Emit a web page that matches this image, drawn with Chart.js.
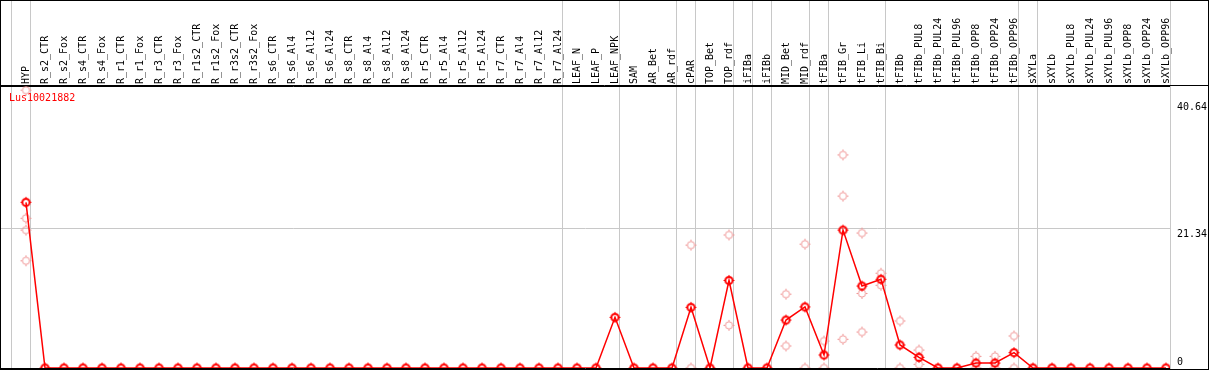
<!DOCTYPE html>
<html>
<head>
<meta charset="utf-8">
<script src="https://cdn.jsdelivr.net/npm/chart.js@4/dist/chart.umd.min.js"></script>
<style>
  html, body { margin: 0; padding: 0; background: #fff; }
  #frame { position: absolute; left: 0; top: 0; width: 1207px; height: 368px; border: 1px solid #000; }
</style>
</head>
<body>
<div id="frame"><canvas id="chart"></canvas></div>
<script>
// gene shown
const geneName = 'Lus10021882';

// sample names, in the order they appear across the top
const categories = [
  'HYP',
  'R_s2_CTR', 'R_s2_Fox', 'R_s4_CTR', 'R_s4_Fox', 'R_r1_CTR', 'R_r1_Fox', 'R_r3_CTR', 'R_r3_Fox',
  'R_r1s2_CTR', 'R_r1s2_Fox', 'R_r3s2_CTR', 'R_r3s2_Fox',
  'R_s6_CTR', 'R_s6_Al4', 'R_s6_Al12', 'R_s6_Al24', 'R_s8_CTR', 'R_s8_Al4', 'R_s8_Al12', 'R_s8_Al24',
  'R_r5_CTR', 'R_r5_Al4', 'R_r5_Al12', 'R_r5_Al24', 'R_r7_CTR', 'R_r7_Al4', 'R_r7_Al12', 'R_r7_Al24',
  'LEAF_N', 'LEAF_P', 'LEAF_NPK',
  'SAM', 'AR_Bet', 'AR_rdf',
  'cPAR',
  'TOP_Bet', 'TOP_rdf',
  'iFIBa', 'iFIBb',
  'MID_Bet', 'MID_rdf',
  'tFIBa',
  'tFIB_Gr', 'tFIB_Li', 'tFIB_Bi',
  'tFIBb', 'tFIBb_PUL8', 'tFIBb_PUL24', 'tFIBb_PUL96', 'tFIBb_OPP8', 'tFIBb_OPP24', 'tFIBb_OPP96',
  'sXYLa',
  'sXYLb', 'sXYLb_PUL8', 'sXYLb_PUL24', 'sXYLb_PUL96', 'sXYLb_OPP8', 'sXYLb_OPP24', 'sXYLb_OPP96'
];

// mean expression per sample
const meanValues = [
  25.35,
  0, 0, 0, 0, 0, 0, 0, 0,
  0, 0, 0, 0,
  0, 0, 0, 0, 0, 0, 0, 0,
  0, 0, 0, 0, 0, 0, 0, 0,
  0, 0, 7.75,
  0, 0, 0,
  9.28,
  0, 13.4,
  0, 0,
  7.34, 9.35,
  1.99,
  21.1, 12.54, 13.57,
  3.52, 1.63, 0, 0, 0.76, 0.76, 2.35,
  0,
  0, 0, 0, 0, 0, 0, 0
];

// single replicates, keyed by sample name
const replicateValues = {
  'HYP': [42.5, 22.9, 21.1, 16.4],
  'cPAR': [18.8, 0],
  'TOP_rdf': [20.35, 6.53],
  'MID_Bet': [11.3, 3.37],
  'MID_rdf': [18.95, 0],
  'tFIBa': [4.13, 0],
  'tFIB_Gr': [32.6, 26.3, 4.39],
  'tFIB_Li': [20.65, 11.4, 5.5],
  'tFIB_Bi': [14.5, 12.65],
  'tFIBb': [7.19, 0],
  'tFIBb_PUL8': [2.75, 0.56],
  'tFIBb_OPP8': [1.78, 0],
  'tFIBb_OPP24': [1.78, 0],
  'tFIBb_OPP96': [4.9, 0]
};

// last sample of each tissue group (a separator is drawn after it)
const groupEnds = [-1, 0, 28, 31, 34, 35, 37, 38, 39, 41, 42, 45, 52, 53, 60];

// right axis labels
const yTickValues = [0, 21.34, 40.64];

const FONT = 'DejaVu Sans Mono';
const GRID = '#c8c8c8';
const SEP_SHIFT = 4 / 19;

function marker(color, width) {
  const c = document.createElement('canvas');
  c.width = 13; c.height = 13;
  const g = c.getContext('2d');
  g.strokeStyle = color;
  g.lineWidth = width;
  g.beginPath();
  g.arc(6.5, 6.5, 3.6, 0, Math.PI * 2);
  g.stroke();
  g.lineWidth = 1;
  g.beginPath();
  g.moveTo(6.5, 1); g.lineTo(6.5, 3);
  g.moveTo(6.5, 10); g.lineTo(6.5, 12);
  g.moveTo(1, 6.5); g.lineTo(3, 6.5);
  g.moveTo(10, 6.5); g.lineTo(12, 6.5);
  g.stroke();
  return c;
}

const mainPoints = meanValues.map((v, i) => ({x: i, y: v}));
const repPoints = [];
categories.forEach((name, i) => {
  (replicateValues[name] || []).forEach(v => repPoints.push({x: i, y: v}));
});
const separators = groupEnds.map(i => i + SEP_SHIFT);
const isSeparator = v => separators.some(s => Math.abs(s - v) < 1e-6);

const titlePlugin = {
  id: 'geneTitle',
  beforeDatasetsDraw(chart) {
    const ctx = chart.ctx;
    ctx.save();
    ctx.fillStyle = '#ff0000';
    ctx.font = '10px "' + FONT + '"';
    ctx.textBaseline = 'alphabetic';
    ctx.fillText(geneName, chart.chartArea.left + 8, chart.chartArea.top + 15);
    ctx.restore();
  },
  afterDraw(chart) {
    // header rule runs across the whole frame
    const ctx = chart.ctx;
    const y = Math.round(chart.scales.x.bottom) - 0.5;
    ctx.save();
    ctx.strokeStyle = '#000';
    ctx.lineWidth = 1;
    ctx.beginPath();
    ctx.moveTo(0, y);
    ctx.lineTo(chart.width, y);
    ctx.stroke();
    ctx.restore();
  }
};

const xMin = -25 / 19;
const xMax = xMin + 1169 / 19;

new Chart(document.getElementById('chart'), {
  type: 'line',
  data: {
    datasets: [{
      label: 'mean',
      data: mainPoints,
      borderColor: '#ff0000',
      borderWidth: 1.5,
      pointStyle: marker('#ff0000', 2),
      pointRadius: 6,
      tension: 0
    }, {
      label: 'replicates',
      data: repPoints,
      showLine: false,
      borderColor: '#f09898',
      pointStyle: marker('#f09898', 1),
      pointRadius: 6
    }]
  },
  options: {
    responsive: true,
    maintainAspectRatio: false,
    animation: false,
    layout: {autoPadding: false, padding: {left: 0, right: 0, top: 0, bottom: 1}},
    plugins: {legend: {display: false}, tooltip: {enabled: false}},
    scales: {
      x: {
        type: 'linear',
        position: 'top',
        min: xMin,
        max: xMax,
        afterBuildTicks: s => {
          const vals = categories.map((c, i) => i).concat(separators);
          vals.sort((a, b) => a - b);
          s.ticks = vals.map(v => ({value: v}));
        },
        afterFit: s => {
          s.height = 85;
          s.paddingLeft = 0;
          s.paddingRight = 0;
        },
        ticks: {
          autoSkip: false,
          minRotation: 90,
          maxRotation: 90,
          padding: -83,
          labelOffset: 12,
          color: '#000',
          font: {family: FONT, size: 10},
          callback: v => Number.isInteger(v) ? categories[v] : ''
        },
        grid: {
          color: c => (c.tick && isSeparator(c.tick.value)) ? GRID : 'rgba(0,0,0,0)',
          tickLength: 85,
          lineWidth: 1
        },
        border: {color: '#000'}
      },
      y: {
        position: 'right',
        min: 0,
        max: 43.14,
        afterBuildTicks: s => { s.ticks = yTickValues.map(v => ({value: v})); },
        afterFit: s => {
          s.width = 38;
          s.paddingTop = 0;
          s.paddingBottom = 0;
        },
        ticks: {
          color: '#000',
          padding: 7,
          font: {family: FONT, size: 10, lineHeight: 1.1},
          callback: v => v === 0 ? ['0', ''] : ['', String(v)]
        },
        grid: {
          drawTicks: false,
          color: c => {
            if (!c.tick) return 'rgba(0,0,0,0)';
            if (c.tick.value === 0) return '#000';
            if (c.tick.value === 21.34) return GRID;
            return 'rgba(0,0,0,0)';
          }
        },
        border: {color: GRID}
      }
    }
  },
  plugins: [titlePlugin]
});
</script>
</body>
</html>
